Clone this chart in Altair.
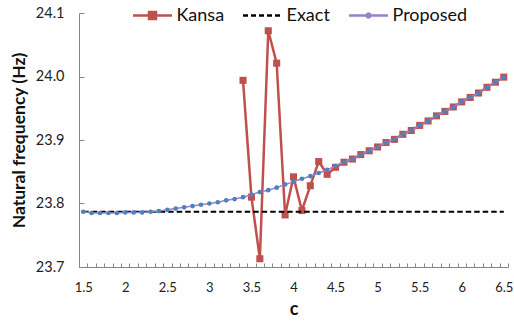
import altair as alt
import pandas as pd

# ---------------- data ----------------
c_values = [1.5, 1.6, 1.7, 1.8, 1.9, 2.0, 2.1, 2.2, 2.3, 2.4,
            2.5, 2.6, 2.7, 2.8, 2.9, 3.0, 3.1, 3.2, 3.3, 3.4,
            3.5, 3.6, 3.7, 3.8, 3.9, 4.0, 4.1, 4.2, 4.3, 4.4,
            4.5, 4.6, 4.7, 4.8, 4.9, 5.0, 5.1, 5.2, 5.3, 5.4,
            5.5, 5.6, 5.7, 5.8, 5.9, 6.0, 6.1, 6.2, 6.3, 6.4, 6.5]

proposed = [23.787, 23.785, 23.785, 23.785, 23.785, 23.786, 23.786, 23.786, 23.787, 23.788,
            23.790, 23.792, 23.794, 23.796, 23.798, 23.800, 23.802, 23.805, 23.807, 23.810,
            23.814, 23.818, 23.821, 23.825, 23.830, 23.834, 23.839, 23.843, 23.848, 23.853,
            23.859, 23.865, 23.870, 23.877, 23.883, 23.889, 23.896, 23.901, 23.909, 23.915,
            23.923, 23.930, 23.938, 23.945, 23.952, 23.960, 23.967, 23.974, 23.983, 23.991, 23.999]

kansa_c = [3.4, 3.5, 3.6, 3.7, 3.8, 3.9, 4.0, 4.1, 4.2, 4.3, 4.4,
           4.5, 4.6, 4.7, 4.8, 4.9, 5.0, 5.1, 5.2, 5.3, 5.4,
           5.5, 5.6, 5.7, 5.8, 5.9, 6.0, 6.1, 6.2, 6.3, 6.4, 6.5]

kansa = [23.994, 23.810, 23.713, 24.072, 24.021, 23.782, 23.842, 23.789, 23.828, 23.866, 23.846,
         23.857, 23.865, 23.870, 23.877, 23.883, 23.889, 23.896, 23.901, 23.909, 23.915,
         23.923, 23.930, 23.938, 23.945, 23.952, 23.960, 23.967, 23.974, 23.983, 23.991, 23.999]

exact_value = 23.787

series_names = ["Kansa", "Exact", "Proposed"]
x_label_values = [1.5, 2, 2.5, 3, 3.5, 4, 4.5, 5, 5.5, 6, 6.5]
y_label_values = [23.7, 23.8, 23.9, 24.0, 24.1]

# ---------------- tables ----------------
df_prop = pd.DataFrame({"c": c_values, "f": proposed})
df_kansa = pd.DataFrame({"c": kansa_c, "f": kansa})
df_exact = pd.DataFrame({"c": [c_values[0], c_values[-1]], "f": [exact_value, exact_value]})
df_legend = pd.DataFrame({"series": series_names})

# category boundaries (Excel "between tick marks")
x_minor_ticks = [round(v - 0.05, 2) for v in c_values] + [round(c_values[-1] + 0.05, 2)]

AXIS_COLOR = "#868686"
FONT = "Lato"

x_scale = alt.Scale(domain=[1.45, 6.55], nice=False, zero=False)
y_scale = alt.Scale(domain=[23.7, 24.1], nice=False, zero=False)

main_x_axis = alt.Axis(orient="bottom", values=x_label_values, format="~g", ticks=False, tickSize=0,
                       labelPadding=14, grid=False, domainColor=AXIS_COLOR, domainWidth=1,
                       labelFlush=False, labelOverlap=False, labelFontSize=13,
                       title="c", titleFontWeight="bold", titleFontSize=18, titlePadding=6)
main_y_axis = alt.Axis(orient="left", values=y_label_values, format=".1f", ticks=False, tickSize=0,
                       labelPadding=15, grid=False, domainColor=AXIS_COLOR, domainWidth=1,
                       labelFlush=False, labelOverlap=False, labelFontSize=14.5,
                       title="Natural frequency (Hz)", titleFontWeight="bold", titleFontSize=17.5,
                       titlePadding=7)

tick_x_axis = alt.Axis(orient="bottom", values=x_minor_ticks, tickSize=4, offset=-4, domain=False,
                       labels=False, title=None, grid=False, tickColor=AXIS_COLOR, tickWidth=1)
tick_y_axis = alt.Axis(orient="left", values=y_label_values, tickSize=5, offset=-5, domain=False,
                       labels=False, title=None, grid=False, tickColor=AXIS_COLOR, tickWidth=1)

kansa_line = alt.Chart(df_kansa).mark_line(color="#c0504d", strokeWidth=2.5).encode(
    x=alt.X("c:Q", scale=x_scale, axis=main_x_axis),
    y=alt.Y("f:Q", scale=y_scale, axis=main_y_axis),
)
kansa_pts = alt.Chart(df_kansa).mark_point(shape="square", filled=True, size=50,
                                           color="#c0504d", opacity=1).encode(
    x=alt.X("c:Q", scale=x_scale, axis=None),
    y=alt.Y("f:Q", scale=y_scale, axis=None),
)
exact_line = alt.Chart(df_exact).mark_line(color="black", strokeWidth=2.2,
                                           strokeDash=[5.5, 3]).encode(
    x=alt.X("c:Q", scale=x_scale, axis=None),
    y=alt.Y("f:Q", scale=y_scale, axis=None),
)
prop_line = alt.Chart(df_prop).mark_line(color="#9b82c8", strokeWidth=1.5).encode(
    x=alt.X("c:Q", scale=x_scale, axis=None),
    y=alt.Y("f:Q", scale=y_scale, axis=None),
)
prop_pts = alt.Chart(df_prop).mark_circle(size=22, color="#4f81bd", opacity=1).encode(
    x=alt.X("c:Q", scale=x_scale, axis=None),
    y=alt.Y("f:Q", scale=y_scale, axis=None),
)
tick_layer = alt.Chart(df_prop).mark_point(opacity=0).encode(
    x=alt.X("c:Q", scale=x_scale, axis=tick_x_axis),
    y=alt.Y("f:Q", scale=y_scale, axis=tick_y_axis),
)

leg = alt.Legend(title=None, orient="none", legendX=52.5, legendY=-18.5, direction="horizontal",
                 symbolSize=1521, symbolStrokeWidth=2.5, symbolOpacity=1,
                 labelFont=FONT, labelFontSize=18, labelColor="#111", labelOffset=3,
                 columnPadding=13, padding=0, labelLimit=0)

shape_paths = [
    "M-1,0L1,0M-0.18,-0.18L0.18,-0.18L0.18,0.18L-0.18,0.18Z",
    "M-1,0L1,0",
    "M-1,0L1,0M0.1,0A0.1,0.1,0,1,1,-0.1,0A0.1,0.1,0,1,1,0.1,0Z",
]

legend_layer = alt.Chart(df_legend).mark_point(opacity=0, strokeWidth=2.5).encode(
    fill=alt.Fill("series:N", scale=alt.Scale(domain=series_names,
                                              range=["#c0504d", "transparent", "#4f81bd"]), legend=leg),
    stroke=alt.Stroke("series:N", scale=alt.Scale(domain=series_names,
                                                  range=["#c0504d", "black", "#9b82c8"]), legend=leg),
    shape=alt.Shape("series:N", scale=alt.Scale(domain=series_names, range=shape_paths), legend=leg),
    strokeDash=alt.StrokeDash("series:N", scale=alt.Scale(domain=series_names,
                                                          range=[[1, 0], [5, 3], [1, 0]]), legend=leg),
)

chart = alt.layer(
    kansa_line, kansa_pts, exact_line, prop_line, prop_pts, tick_layer, legend_layer
).resolve_axis(x="independent", y="independent").properties(
    width=429, height=254,
    padding={"left": 79, "top": 13, "right": 6, "bottom": 57},
    autosize=alt.AutoSizeParams(type="none"),
).configure_view(stroke=None).configure_axis(
    labelFont=FONT, titleFont=FONT, labelColor="#222", titleColor="#111"
)

chart.save("out.html", embed_options={"renderer": "svg", "actions": False})
